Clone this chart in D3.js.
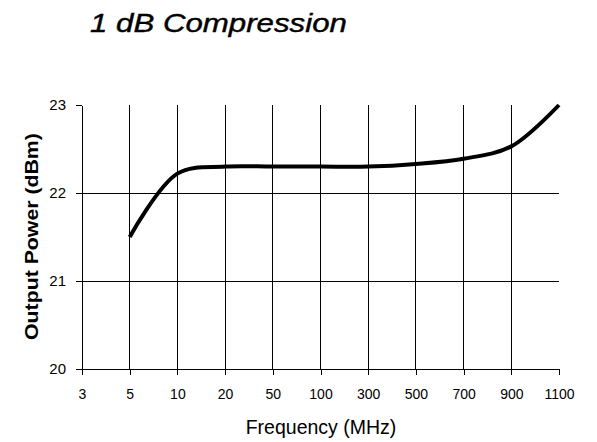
<!DOCTYPE html>
<html><head><meta charset="utf-8">
<script src="https://cdn.jsdelivr.net/npm/d3@7/dist/d3.min.js"></script>
<style>body{margin:0;background:#fff}svg{display:block}text{font-family:"Liberation Sans",Arial,sans-serif;fill:#000}</style>
</head><body>
<script>
const categories = ["3","5","10","20","50","100","300","500","700","900","1100"];
const dataX = ["5","10","20","50","100","300","500","700","900","1100"];
const dataY = [21.5, 22.22, 22.3, 22.3, 22.3, 22.3, 22.33, 22.39, 22.53, 23.0];
const yTicks = [20, 21, 22, 23];

(function () {
const W = 597, H = 442;
const svg = d3.select("body").append("svg").attr("width", W).attr("height", H);
const pL = 82, pR = 559, pT = 105, pB = 369;
const x = d3.scalePoint().domain(categories).range([pL, pR]);
const y = d3.scaleLinear().domain([20, 23]).range([pB, pT]);

function stretched(g, txt, size, weight, style, targetLen) {
  const t = g.append("text").attr("font-size", size).attr("font-weight", weight)
    .attr("font-style", style).text(txt);
  const len = t.node().getComputedTextLength();
  t.attr("transform", `scale(${targetLen / len},1)`);
  return t;
}

// title
const tg = svg.append("g").attr("transform", "translate(90,32)");
stretched(tg, "1 dB Compression", 25, "normal", "italic", 257).attr("stroke", "#000").attr("stroke-width", 0.4);

// vertical grid
svg.append("g").selectAll("line").data(categories.slice(1, -1)).join("line")
  .attr("x1", d => x(d)).attr("x2", d => x(d)).attr("y1", pT).attr("y2", pB)
  .attr("stroke", "#000").attr("stroke-width", 1).attr("shape-rendering", "crispEdges");
// horizontal grid
svg.append("g").selectAll("line").data([21, 22]).join("line")
  .attr("x1", pL).attr("x2", pR).attr("y1", d => y(d)).attr("y2", d => y(d))
  .attr("stroke", "#000").attr("stroke-width", 1).attr("shape-rendering", "crispEdges");

// axes
const xAxis = svg.append("g").attr("transform", `translate(0,${pB})`)
  .call(d3.axisBottom(x).tickSize(6).tickPadding(14).tickSizeOuter(0));
xAxis.selectAll("text").attr("font-size", 14).style("font-family", '"Liberation Sans",Arial,sans-serif');
const yAxis = svg.append("g").attr("transform", `translate(${pL},0)`)
  .call(d3.axisLeft(y).tickValues(yTicks).tickFormat(d3.format("d")).tickSize(6).tickPadding(10).tickSizeOuter(0));
yAxis.selectAll("text").attr("font-size", 15).style("font-family", '"Liberation Sans",Arial,sans-serif');
svg.selectAll(".domain, .tick line").attr("stroke", "#000").attr("shape-rendering", "crispEdges");

// axis titles
svg.append("text").attr("x", 321).attr("y", 433.5).attr("text-anchor", "middle").attr("font-size", 19.5)
  .text("Frequency (MHz)");
const yg = svg.append("g").attr("transform", "translate(38,340) rotate(-90)");
stretched(yg, "Output Power (dBm)", 18, "bold", "normal", 207);

// data line
const pts = dataX.map((c, i) => [x(c), y(dataY[i])]);
svg.append("path").attr("d", d3.line().curve(d3.curveCatmullRom.alpha(0.5))(pts))
  .attr("fill", "none").attr("stroke", "#000").attr("stroke-width", 4).attr("stroke-linejoin", "round");
})();
</script>
</body></html>
